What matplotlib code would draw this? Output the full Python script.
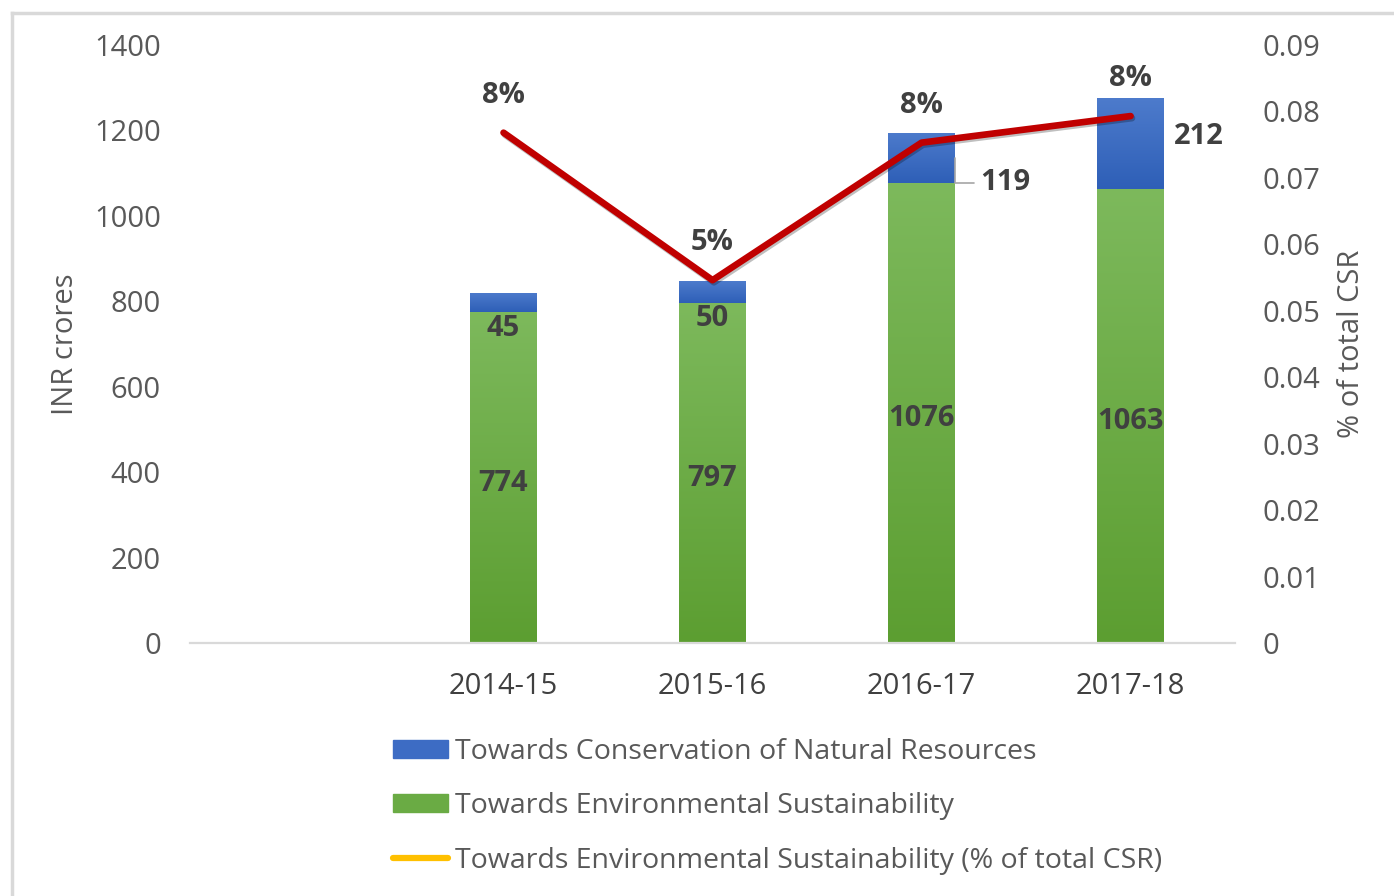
import numpy as np
import matplotlib.pyplot as plt
import matplotlib.patheffects as pe
from matplotlib.colors import LinearSegmentedColormap
from matplotlib.lines import Line2D
from matplotlib.patches import Patch

plt.rcParams["font.family"] = ["Open Sans", "DejaVu Sans"]

# fiscal years (first slot is left empty on the axis)
years = ["", "2014-15", "2015-16", "2016-17", "2017-18"]
sustainability = [0, 774, 797, 1076, 1063]
conservation = [0, 45, 50, 119, 212]
share_of_csr = [np.nan, 0.0768, 0.0546, 0.0753, 0.0793]

GREEN = LinearSegmentedColormap.from_list("g", ["#5c9e31", "#7db95c"])
BLUE = LinearSegmentedColormap.from_list("b", ["#2e5fb7", "#4d7bcc"])
LABEL = "#404040"
TICK = "#595959"
FS = 21


def gradient_fill(ax, bars, cmap):
    grad = np.linspace(0, 1, 256).reshape(-1, 1)
    for bar in bars:
        if bar.get_height() <= 0:
            continue
        x0, y0 = bar.get_x(), bar.get_y()
        x1, y1 = x0 + bar.get_width(), y0 + bar.get_height()
        im = ax.imshow(grad, extent=[x0, x1, y0, y1], origin="lower",
                       aspect="auto", cmap=cmap, zorder=2)
        im.set_clip_path(bar)


def main() -> None:
    fig = plt.figure(figsize=(13.94, 8.96), dpi=100)
    ax = fig.add_axes([0.1363, 0.2824, 0.7497, 0.6674])
    ax2 = ax.twinx()

    x = np.arange(len(years))
    width = 0.32
    green_bars = ax.bar(x, sustainability, width, color="none", edgecolor="none", zorder=2)
    blue_bars = ax.bar(x, conservation, width, bottom=sustainability,
                       color="none", edgecolor="none", zorder=2)
    gradient_fill(ax, green_bars, GREEN)
    gradient_fill(ax, blue_bars, BLUE)

    ax.set_xlim(-0.5, len(years) - 0.5)
    ax.set_ylim(0, 1400)
    ax.set_yticks(np.arange(0, 1401, 200))
    ax.set_xticks(x)
    ax.set_xticklabels(years)

    for side in ["top", "right", "left"]:
        ax.spines[side].set_visible(False)
        ax2.spines[side].set_visible(False)
    ax.spines["bottom"].set_color("#d9d9d9")
    ax.spines["bottom"].set_linewidth(1.6)
    ax2.spines["bottom"].set_visible(False)

    ax.tick_params(axis="y", length=0, pad=21, labelsize=FS, labelcolor=TICK)
    ax.tick_params(axis="x", length=0, pad=21, labelsize=FS, labelcolor=LABEL)
    ax.set_ylabel("INR crores", fontsize=FS, color=TICK, labelpad=10)

    # values inside the green segments
    for xi, s in zip(x, sustainability):
        if s:
            ax.annotate(f"{s}", (xi, s / 2), xytext=(0, -4), textcoords="offset points",
                        ha="center", va="center", fontsize=FS, fontweight="bold",
                        color=LABEL, zorder=4)

    # conservation values
    for xi, s, c in zip(x[1:3], sustainability[1:3], conservation[1:3]):
        ax.annotate(f"{c}", (xi, s), xytext=(0, -1), textcoords="offset points",
                    ha="center", va="top", fontsize=FS, fontweight="bold",
                    color=LABEL, zorder=4)
    ax.annotate(f"{conservation[3]}", (x[3] + width / 2, sustainability[3] + conservation[3] / 2),
                xytext=(18, -18), textcoords="offset points", ha="left", va="center",
                fontsize=FS, fontweight="bold", color=LABEL, zorder=4,
                arrowprops=dict(arrowstyle="-", color="#a6a6a6", lw=1.2,
                                connectionstyle="angle,angleA=0,angleB=90,rad=0",
                                shrinkA=2, shrinkB=0))
    ax.annotate(f"{conservation[4]}", (x[4] + width / 2, sustainability[4] + conservation[4] / 2),
                xytext=(7, 5), textcoords="offset points", ha="left", va="center",
                fontsize=FS, fontweight="bold", color=LABEL, zorder=4)

    # share of total CSR on the secondary axis
    ax2.plot(x, share_of_csr, color="#c00000", lw=4.8, solid_capstyle="round",
             solid_joinstyle="round", zorder=5,
             path_effects=[pe.SimpleLineShadow(offset=(1, -1.5), alpha=0.25),
                           pe.Normal()])
    for xi, v in zip(x, share_of_csr):
        if not np.isnan(v):
            ax2.annotate(f"{v:.0%}", (xi, v), xytext=(0, 27), textcoords="offset points",
                         ha="center", va="center", fontsize=FS, fontweight="bold",
                         color=LABEL)
    ax2.set_ylim(0, 0.09)
    ax2.set_yticks(np.arange(0, 0.091, 0.01))
    ax2.set_yticklabels(["0"] + [f"{t:.2f}" for t in np.arange(0.01, 0.091, 0.01)])
    ax2.tick_params(axis="y", length=0, pad=20, labelsize=FS, labelcolor=TICK)
    ax2.set_ylabel("% of total CSR", fontsize=FS, color=TICK, labelpad=12)

    handles = [
        Patch(facecolor="#3d6cc4", edgecolor="#3d6cc4"),
        Patch(facecolor="#6aab44", edgecolor="#6aab44"),
        Line2D([0], [0], color="#ffc000", lw=4.5, solid_capstyle="round"),
    ]
    labels = [
        "Towards Conservation of Natural Resources",
        "Towards Environmental Sustainability",
        "Towards Environmental Sustainability (% of total CSR)",
    ]
    fig.legend(handles, labels, loc="upper left", bbox_to_anchor=(0.282, 0.1765),
               frameon=False, fontsize=20.5, labelcolor=TICK, handlelength=1.93,
               handleheight=0.6, handletextpad=0.25, labelspacing=0.93,
               borderaxespad=0, borderpad=0)

    # light frame along the top and left edges
    fig.add_artist(Line2D([0.0086, 0.0086], [0, 0.986], color="#d9d9d9", lw=2.5))
    fig.add_artist(Line2D([0.0086, 1], [0.986, 0.986], color="#d9d9d9", lw=2.5))

    fig.savefig("out.png", dpi=100)


if __name__ == "__main__":
    main()
